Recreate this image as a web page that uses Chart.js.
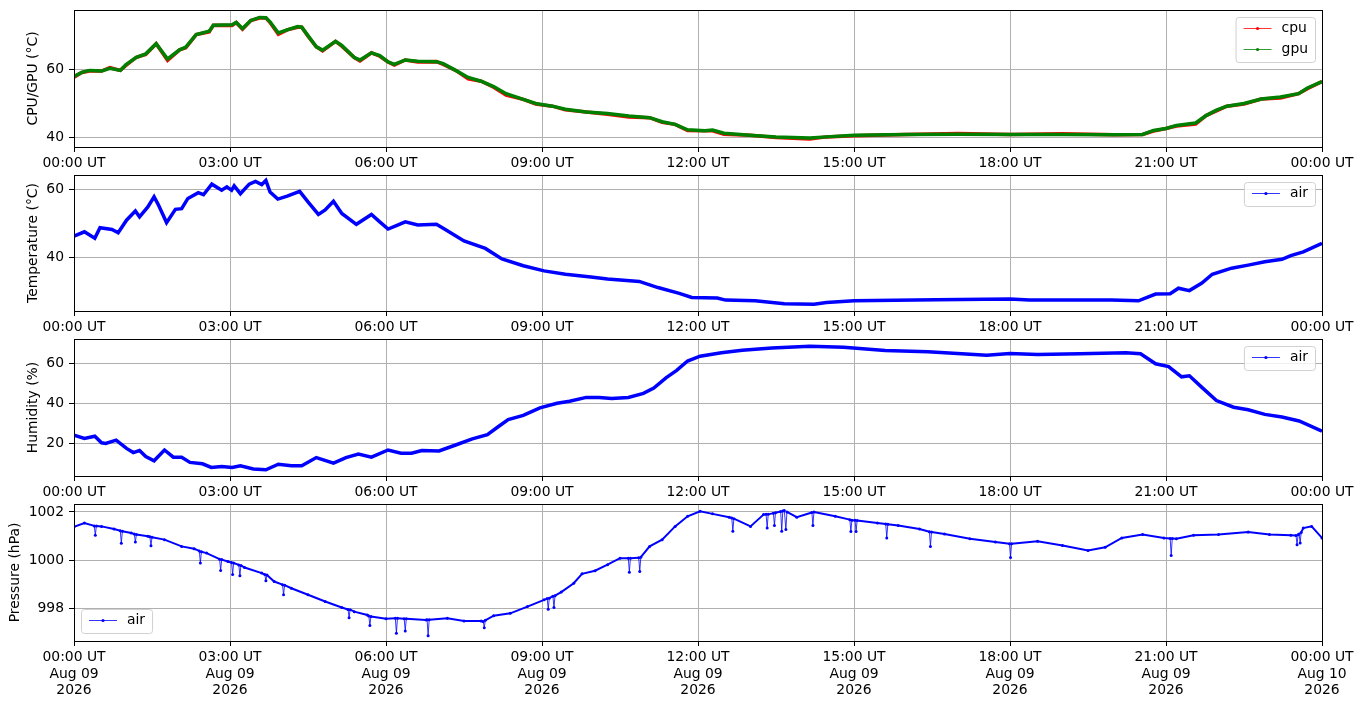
<!DOCTYPE html>
<html>
<head>
<meta charset="utf-8">
<script src="https://cdn.jsdelivr.net/npm/chart.js@4"></script>
<style>
  html, body { margin: 0; padding: 0; background: #fff; }
  body { width: 1363px; height: 707px; position: relative; overflow: hidden; }
  canvas { position: absolute; left: 0; }
</style>
</head>
<body>
<canvas id="c1" width="1363" height="167" style="top:5px"></canvas>
<canvas id="c2" width="1363" height="166" style="top:170px"></canvas>
<canvas id="c3" width="1363" height="167" style="top:334px"></canvas>
<canvas id="c4" width="1363" height="208" style="top:499px"></canvas>
<script>
// x axis ticks (hours since 00:00 UT, Aug 09 2026)
const tickHours = [0, 3, 6, 9, 12, 15, 18, 21, 24];
const tickTimes = ['00:00 UT', '03:00 UT', '06:00 UT', '09:00 UT', '12:00 UT', '15:00 UT', '18:00 UT', '21:00 UT', '00:00 UT'];
const tickDates = ['Aug 09', 'Aug 09', 'Aug 09', 'Aug 09', 'Aug 09', 'Aug 09', 'Aug 09', 'Aug 09', 'Aug 10'];
const tickYear = '2026';

// panel 1: cpu / gpu temperature
const chipTimes = [0, 0.15, 0.3, 0.53, 0.69, 0.89, 1.0, 1.2, 1.38, 1.58, 1.8, 2.03, 2.15, 2.35, 2.6, 2.68, 3.04, 3.12, 3.24, 3.4,
  3.57, 3.69, 3.77, 3.93, 4.1, 4.3, 4.38, 4.5, 4.66, 4.78, 5.03, 5.15, 5.39, 5.5, 5.72, 5.88, 6.04, 6.16, 6.37, 6.61,
  6.97, 7.1, 7.34, 7.58, 7.83, 8.07, 8.31, 8.64, 8.88, 9.2, 9.45, 9.85, 10.26, 10.67, 11.07, 11.31, 11.56, 11.8, 12.13, 12.28,
  12.5, 13.0, 13.5, 14.15, 14.47, 15.0, 16.0, 17.0, 18.0, 19.0, 20.0, 20.55, 20.76, 21.0, 21.2, 21.57, 21.77, 21.97, 22.17, 22.5,
  22.83, 23.2, 23.55, 23.72, 24.0];
const gpuTemp = [58.0, 59.2, 59.8, 59.6, 60.4, 59.8, 61.5, 63.7, 64.7, 67.7, 63.2, 65.9, 66.7, 70.4, 71.4, 73.2, 73.3, 74.0, 72.2, 74.6,
  75.5, 75.4, 74.2, 70.9, 71.8, 72.8, 72.6, 70.1, 66.8, 65.8, 68.4, 67.2, 63.6, 62.9, 65.0, 64.2, 62.3, 61.6, 62.9, 62.5,
  62.4, 61.8, 59.8, 57.7, 56.6, 55.0, 52.9, 51.2, 50.0, 49.2, 48.3, 47.5, 47.0, 46.3, 45.8, 44.6, 43.8, 42.2, 41.9, 42.1,
  41.2, 40.6, 40.1, 39.8, 40.1, 40.6, 40.8, 40.9, 40.8, 40.8, 40.7, 40.8, 42.0, 42.6, 43.5, 44.2, 46.4, 48.0, 49.2, 50.0,
  51.3, 51.9, 52.9, 54.6, 56.5];
const cpuTemp = [57.8, 59.2, 59.6, 59.6, 60.6, 59.8, 61.3, 63.7, 64.5, 67.7, 62.8, 65.9, 66.5, 70.4, 71.2, 73.2, 73.1, 74.0, 72.0, 74.6,
  75.3, 75.4, 74.0, 70.5, 71.8, 72.6, 72.6, 69.9, 66.8, 65.6, 68.4, 67.0, 63.6, 62.6, 65.0, 64.0, 62.3, 61.4, 62.9, 62.3,
  62.4, 61.6, 59.8, 57.3, 56.6, 54.8, 52.5, 51.2, 49.8, 49.2, 48.1, 47.5, 46.8, 46.0, 45.8, 44.4, 43.8, 42.0, 41.9, 41.9,
  40.9, 40.6, 39.9, 39.5, 40.1, 40.4, 40.8, 41.1, 40.8, 41.0, 40.7, 40.8, 41.8, 42.6, 43.3, 43.9, 46.4, 47.8, 49.2, 49.8,
  51.3, 51.6, 52.9, 54.4, 56.5];

// panel 2: air temperature
const tempTimes = [0, 0.2, 0.4, 0.5, 0.73, 0.85, 1.01, 1.18, 1.26, 1.42, 1.54, 1.62, 1.78, 1.95, 2.07, 2.19, 2.39, 2.49, 2.65, 2.84,
  2.94, 3.03, 3.08, 3.2, 3.37, 3.49, 3.61, 3.69, 3.77, 3.92, 4.1, 4.34, 4.5, 4.7, 4.83, 4.99, 5.15, 5.43, 5.72, 5.88,
  6.04, 6.2, 6.37, 6.61, 6.97, 7.14, 7.5, 7.91, 8.23, 8.64, 9.04, 9.45, 9.94, 10.26, 10.87, 11.23, 11.64, 11.88, 12.37, 12.53,
  13.1, 13.66, 14.23, 14.47, 15.0, 16.58, 18.0, 18.37, 19.95, 20.47, 20.8, 21.08, 21.24, 21.45, 21.69, 21.89, 22.26, 22.58, 22.9, 23.23,
  23.4, 23.64, 24.0];
const airTemp = [46.2, 47.5, 45.6, 48.7, 48.2, 47.2, 50.9, 53.6, 51.9, 54.8, 57.8, 55.5, 50.2, 54.1, 54.3, 57.3, 59.0, 58.4, 61.5, 59.7,
  60.7, 59.7, 61.0, 58.7, 61.5, 62.3, 61.4, 62.6, 59.2, 57.1, 58.0, 59.4, 56.3, 52.6, 53.9, 56.5, 52.9, 49.7, 52.6, 50.4,
  48.3, 49.3, 50.4, 49.5, 49.7, 48.2, 44.8, 42.6, 39.5, 37.5, 36.0, 35.0, 34.2, 33.6, 32.9, 31.1, 29.4, 28.2, 28.0, 27.4,
  27.2, 26.3, 26.2, 26.7, 27.2, 27.5, 27.7, 27.4, 27.4, 27.2, 29.2, 29.3, 30.9, 30.2, 32.4, 35.0, 36.8, 37.7, 38.7, 39.4,
  40.5, 41.6, 44.1];

// panel 3: humidity
const humTimes = [0, 0.2, 0.4, 0.53, 0.61, 0.81, 1.01, 1.14, 1.26, 1.38, 1.54, 1.74, 1.91, 2.07, 2.23, 2.47, 2.64, 2.84, 3.04, 3.2,
  3.45, 3.69, 3.93, 4.18, 4.38, 4.66, 4.99, 5.23, 5.47, 5.72, 6.04, 6.29, 6.49, 6.69, 7.02, 7.34, 7.66, 7.95, 8.15, 8.35,
  8.64, 8.96, 9.29, 9.53, 9.85, 10.1, 10.34, 10.66, 10.95, 11.15, 11.39, 11.59, 11.8, 12.04, 12.45, 12.85, 13.42, 14.15, 14.8, 15.6,
  16.42, 17.07, 17.55, 18.0, 18.53, 19.34, 20.23, 20.51, 20.8, 21.05, 21.3, 21.45, 21.69, 21.97, 22.3, 22.58, 22.9, 23.23, 23.56, 24.0];
const airHum = [24.1, 22.5, 23.6, 20.3, 20.0, 21.6, 17.5, 15.4, 16.4, 13.4, 11.3, 16.7, 13.1, 13.1, 10.5, 9.8, 8.0, 8.5, 8.0, 8.8,
  7.2, 6.8, 9.6, 8.8, 8.8, 12.9, 10.1, 12.9, 14.7, 13.1, 16.7, 15.1, 15.1, 16.4, 16.2, 19.2, 22.3, 24.4, 28.2, 31.9,
  34.0, 37.8, 40.1, 41.1, 43.0, 43.0, 42.4, 43.0, 45.0, 47.7, 52.9, 56.5, 61.2, 63.6, 65.3, 66.6, 67.7, 68.6, 68.1, 66.4,
  65.8, 64.8, 64.1, 64.9, 64.4, 64.8, 65.3, 64.8, 59.8, 58.4, 53.3, 53.8, 48.0, 41.4, 38.1, 36.8, 34.5, 33.2, 31.2, 26.1];

// panel 4: pressure (including the short downward drops)
const presTimes = [0, 0.2, 0.39, 0.41, 0.43, 0.53, 0.77, 0.89, 0.91, 0.93, 1.1, 1.16, 1.18, 1.2, 1.42, 1.46, 1.48, 1.5, 1.74, 2.07,
  2.31, 2.41, 2.43, 2.45, 2.55, 2.8, 2.82, 2.84, 2.96, 3.03, 3.05, 3.07, 3.17, 3.19, 3.21, 3.28, 3.61, 3.67, 3.69, 3.71,
  3.85, 4.01, 4.03, 4.05, 4.18, 4.5, 4.83, 5.15, 5.27, 5.29, 5.31, 5.39, 5.64, 5.67, 5.69, 5.71, 6.0, 6.18, 6.2, 6.22,
  6.35, 6.37, 6.39, 6.77, 6.79, 6.81, 6.83, 7.18, 7.5, 7.83, 7.87, 7.89, 7.91, 8.07, 8.39, 8.72, 9.04, 9.1, 9.12, 9.14,
  9.21, 9.23, 9.25, 9.37, 9.61, 9.77, 10.02, 10.26, 10.5, 10.66, 10.68, 10.7, 10.86, 10.88, 10.9, 11.07, 11.31, 11.56, 11.8, 12.04,
  12.28, 12.6, 12.65, 12.67, 12.69, 13.01, 13.26, 13.31, 13.33, 13.35, 13.45, 13.47, 13.49, 13.59, 13.61, 13.63, 13.66, 13.69, 13.71, 13.9,
  14.19, 14.21, 14.23, 14.64, 14.92, 14.94, 14.96, 15.02, 15.04, 15.06, 15.45, 15.61, 15.63, 15.65, 15.85, 16.26, 16.45, 16.47, 16.49, 16.74,
  17.23, 17.72, 17.99, 18.01, 18.03, 18.53, 19.01, 19.5, 19.83, 20.15, 20.55, 20.96, 21.08, 21.1, 21.12, 21.2, 21.53, 22.01, 22.58, 22.99,
  23.4, 23.5, 23.52, 23.54, 23.56, 23.58, 23.6, 23.64, 23.8, 24.0];
const airPres = [1001.38, 1001.54, 1001.42, 1001.03, 1001.42, 1001.40, 1001.29, 1001.22, 1000.70, 1001.20, 1001.13, 1001.08, 1000.75, 1001.06, 1000.99, 1000.97, 1000.60, 1000.95, 1000.85, 1000.57,
  1000.47, 1000.38, 999.88, 1000.35, 1000.29, 1000.04, 999.57, 1000.02, 999.94, 999.90, 999.40, 999.88, 999.80, 999.35, 999.78, 999.69, 999.46, 999.40, 999.14, 999.38,
  999.11, 998.98, 998.56, 998.96, 998.83, 998.56, 998.28, 998.03, 997.95, 997.61, 997.94, 997.86, 997.72, 997.68, 997.28, 997.66, 997.56, 997.58, 996.96, 997.58,
  997.56, 997.06, 997.56, 997.51, 997.52, 996.86, 997.52, 997.58, 997.47, 997.47, 997.45, 997.19, 997.50, 997.69, 997.79, 998.07, 998.35, 998.40, 997.96, 998.42,
  998.50, 998.03, 998.52, 998.67, 999.04, 999.43, 999.56, 999.81, 1000.08, 1000.08, 999.50, 1000.08, 1000.10, 999.53, 1000.12, 1000.57, 1000.85, 1001.40, 1001.82, 1002.03,
  1001.92, 1001.78, 1001.75, 1001.20, 1001.72, 1001.40, 1001.89, 1001.90, 1001.33, 1001.90, 1001.95, 1001.44, 1001.97, 1002.02, 1001.20, 1002.04, 1002.06, 1001.27, 1002.00, 1001.78,
  1001.98, 1001.44, 1002.00, 1001.82, 1001.68, 1001.19, 1001.66, 1001.65, 1001.19, 1001.64, 1001.54, 1001.50, 1000.92, 1001.49, 1001.44, 1001.29, 1001.18, 1000.57, 1001.17, 1001.08,
  1000.89, 1000.75, 1000.68, 1000.11, 1000.68, 1000.78, 1000.61, 1000.40, 1000.53, 1000.92, 1001.06, 1000.92, 1000.90, 1000.19, 1000.90, 1000.89, 1001.03, 1001.06, 1001.17, 1001.06,
  1001.03, 1001.02, 1000.64, 1001.05, 1001.08, 1000.71, 1001.15, 1001.33, 1001.40, 1000.92];

const FONT = "'DejaVu Sans', sans-serif";
Chart.defaults.font.family = FONT;
Chart.defaults.font.size = 13.9;
Chart.defaults.color = '#000';

const xy = (ts, vs) => ts.map((t, i) => ({ x: t, y: vs[i] }));

// black frame around the plot area (matplotlib style spines)
const frame = {
  id: 'frame',
  afterDraw(chart) {
    const { ctx, chartArea: a } = chart;
    ctx.save();
    ctx.strokeStyle = '#000';
    ctx.lineWidth = 1;
    ctx.strokeRect(Math.round(a.left) + 0.5, Math.round(a.top) + 0.5, Math.round(a.right - a.left), Math.round(a.bottom - a.top));
    ctx.restore();
  }
};

// legend box drawn inside the plot area
const boxLegend = {
  id: 'boxLegend',
  afterDraw(chart, args, opts) {
    const { ctx, chartArea: a } = chart;
    const sets = chart.data.datasets;
    ctx.save();
    ctx.font = '13.9px ' + FONT;
    const tw = Math.max(...sets.map(d => ctx.measureText(d.label).width));
    const w = 46 + tw + 7, h = 3 + 21 * sets.length;
    const x = opts.corner === 'bl' ? a.left + 7 : a.right - 7 - w;
    const y = opts.corner === 'bl' ? a.bottom - 8 - h : a.top + 7;
    ctx.beginPath();
    ctx.roundRect(x + 0.5, y + 0.5, w, h, 3);
    ctx.fillStyle = 'rgba(255,255,255,0.8)';
    ctx.fill();
    ctx.strokeStyle = '#d0d0d0';
    ctx.lineWidth = 1;
    ctx.stroke();
    sets.forEach((d, i) => {
      const cy = y + 11.5 + 21 * i;
      ctx.strokeStyle = d.borderColor;
      ctx.lineWidth = 0.8;
      ctx.beginPath();
      ctx.moveTo(x + 8, cy);
      ctx.lineTo(x + 36, cy);
      ctx.stroke();
      ctx.fillStyle = d.borderColor;
      ctx.beginPath();
      ctx.arc(x + 22, cy, 1.6, 0, Math.PI * 2);
      ctx.fill();
      ctx.fillStyle = '#000';
      ctx.textBaseline = 'middle';
      ctx.fillText(d.label, x + 46, cy);
    });
    ctx.restore();
  }
};

function makeChart(id, datasets, opt) {
  new Chart(document.getElementById(id), {
    type: 'line',
    data: { datasets },
    plugins: [frame, boxLegend],
    options: {
      responsive: false,
      animation: false,
      layout: { padding: { left: 0, right: 41, top: 5, bottom: 0 } },
      plugins: {
        legend: { display: false },
        tooltip: { enabled: false },
        boxLegend: { corner: opt.corner }
      },
      scales: {
        x: {
          type: 'linear',
          min: 0,
          max: 24,
          afterBuildTicks: s => { s.ticks = tickHours.map(v => ({ value: v })); },
          afterFit: s => { s.height = opt.axisH; s.paddingLeft = 0; s.paddingRight = 0; },
          grid: { color: '#b0b0b0', lineWidth: 1, tickColor: '#000', tickLength: 5 },
          border: { display: false },
          ticks: {
            padding: 3,
            maxRotation: 0,
            autoSkip: false,
            callback: (v, i) => opt.dates ? [tickTimes[i], tickDates[i], tickYear] : tickTimes[i]
          }
        },
        y: {
          min: opt.min,
          max: opt.max,
          afterBuildTicks: s => { s.ticks = opt.ticks.map(v => ({ value: v })); },
          afterFit: s => { s.width = 74; s.paddingTop = 0; s.paddingBottom = 0; },
          grid: { color: '#b0b0b0', lineWidth: 1, tickColor: '#000', tickLength: 5 },
          border: { display: false },
          ticks: { padding: 5, callback: v => String(v) },
          title: { display: true, text: opt.title, padding: { top: opt.titlePad, bottom: 0 } }
        }
      }
    }
  });
}

document.addEventListener('DOMContentLoaded', () => {
  const thick = { pointRadius: 0, borderWidth: 3.5, tension: 0 };

  // gpu (order 1) is painted over cpu (order 2)
  makeChart('c1', [
    { label: 'cpu', data: xy(chipTimes, cpuTemp), borderColor: '#ff0000', ...thick, order: 2 },
    { label: 'gpu', data: xy(chipTimes, gpuTemp), borderColor: '#008000', ...thick, order: 1 }
  ], { min: 37.1, max: 77.7, ticks: [40, 60], title: 'CPU/GPU (°C)', titlePad: 25, axisH: 25, corner: 'tr' });

  makeChart('c2', [
    { label: 'air', data: xy(tempTimes, airTemp), borderColor: '#0000ff', ...thick }
  ], { min: 24.2, max: 64.2, ticks: [40, 60], title: 'Temperature (°C)', titlePad: 25, axisH: 25, corner: 'tr' });

  makeChart('c3', [
    { label: 'air', data: xy(humTimes, airHum), borderColor: '#0000ff', ...thick }
  ], { min: 3.7, max: 72.2, ticks: [20, 40, 60], title: 'Humidity (%)', titlePad: 25, axisH: 25, corner: 'tr' });

  // steep drops get a thin line, the slow trend a thicker dotted band
  makeChart('c4', [
    { label: 'air', data: xy(presTimes, airPres), borderColor: '#0000ff', backgroundColor: '#0000ff',
      pointRadius: 1.5, pointBorderWidth: 0, borderWidth: 2, tension: 0,
      segment: {
        borderWidth: c => Math.abs((c.p1.parsed.y - c.p0.parsed.y) / (c.p1.parsed.x - c.p0.parsed.x)) > 8 ? 0.8 : 2
      } }
  ], { min: 996.64, max: 1002.33, ticks: [998, 1000, 1002], title: 'Pressure (hPa)', titlePad: 7, axisH: 66, corner: 'bl', dates: true });
});
</script>
</body>
</html>
